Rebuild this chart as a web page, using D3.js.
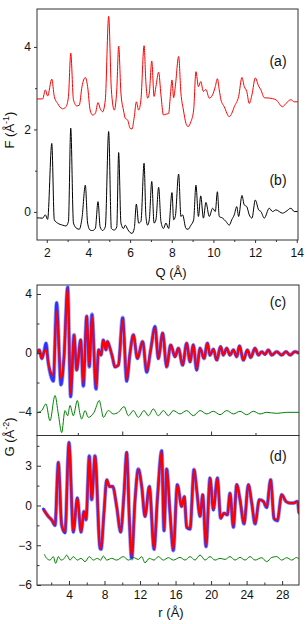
<!DOCTYPE html>
<html>
<head>
<meta charset="utf-8">
<script src="https://cdn.jsdelivr.net/npm/d3@7"></script>
<style>
  body { margin: 0; background: #fff; }
  svg text { font-family: "Liberation Sans", Arial, sans-serif; }
</style>
</head>
<body>
<svg id="chart"></svg>
<script>
// (a) measured F(Q), shifted up
var qA = [1.50,1.80,1.93,2.04,2.24,2.36,2.52,2.76,2.92,3.04,
  3.15,3.28,3.44,3.56,3.69,3.85,3.96,4.08,4.20,4.33,
  4.46,4.56,4.68,4.81,4.97,5.10,5.24,5.36,5.45,5.56,
  5.68,5.77,5.88,6.00,6.09,6.20,6.30,6.41,6.52,6.67,
  6.76,6.84,6.92,7.04,7.15,7.24,7.37,7.48,7.60,7.72,
  7.85,7.93,8.01,8.09,8.17,8.33,8.44,8.56,8.68,8.78,
  8.92,9.05,9.16,9.28,9.39,9.52,9.64,9.80,9.96,10.09,
  10.19,10.28,10.36,10.52,10.76,10.88,11.00,11.21,11.37,11.48,
  11.60,11.72,11.85,12.01,12.17,12.28,12.44,12.68,13.00,13.32,
  13.48,13.72,13.88,14.05];
var fA = [2.74,2.74,2.96,2.81,3.22,2.80,2.63,2.50,2.55,2.80,
  3.85,2.72,2.57,2.59,3.04,3.26,3.04,2.47,2.35,2.39,
  2.65,2.51,2.43,2.72,4.74,2.96,2.47,2.96,4.02,2.88,
  2.47,2.27,2.23,2.03,2.01,2.31,2.67,2.47,2.72,4.03,
  3.12,2.76,2.88,3.66,2.80,3.04,3.39,2.84,2.35,2.37,
  2.39,2.80,3.20,2.77,3.04,3.77,2.88,2.47,2.15,2.07,
  2.19,2.47,3.40,3.04,3.16,2.92,2.97,2.76,2.84,3.04,
  3.23,2.96,2.72,2.55,2.31,2.39,2.55,2.80,3.26,3.04,
  2.92,2.63,2.84,3.25,3.05,2.96,2.77,2.76,2.72,2.55,
  2.63,2.72,2.67,2.67];

// (b) calculated F(Q)
var qB = [1.50,1.80,1.93,2.04,2.24,2.36,2.52,2.76,2.92,3.04,
  3.15,3.28,3.44,3.56,3.69,3.85,3.96,4.08,4.20,4.33,
  4.46,4.56,4.68,4.81,4.97,5.10,5.24,5.36,5.45,5.56,
  5.68,5.77,5.88,6.00,6.09,6.20,6.30,6.41,6.52,6.67,
  6.76,6.84,6.92,7.04,7.15,7.24,7.37,7.48,7.60,7.72,
  7.85,8.01,8.09,8.17,8.33,8.44,8.52,8.68,8.78,8.92,
  9.05,9.16,9.28,9.39,9.52,9.64,9.80,9.96,10.09,10.19,
  10.28,10.44,10.60,10.76,10.88,11.00,11.12,11.21,11.37,11.48,
  11.60,11.72,11.85,12.01,12.17,12.28,12.44,12.68,12.84,13.00,
  13.32,13.48,13.72,13.88,14.05];
var fB = [-0.14,-0.15,-0.07,-0.18,1.66,-0.19,-0.27,-0.32,-0.34,-0.23,
  2.03,-0.27,-0.40,-0.42,-0.15,0.65,-0.27,-0.44,-0.45,-0.40,
  0.25,-0.36,-0.45,-0.36,1.95,-0.40,-0.44,-0.36,1.44,-0.27,
  -0.40,-0.32,-0.42,-0.50,-0.52,-0.40,0.19,-0.27,-0.23,1.18,
  -0.11,-0.32,-0.19,0.74,-0.27,-0.19,0.60,-0.23,-0.40,-0.27,
  -0.40,0.47,-0.19,-0.11,0.92,-0.11,-0.07,-0.40,-0.42,-0.32,
  -0.19,0.65,-0.11,0.39,-0.15,0.23,-0.11,0.09,0.01,0.49,
  -0.11,-0.15,-0.23,-0.32,-0.19,-0.07,0.13,-0.11,0.40,0.17,
  0.13,-0.07,-0.15,0.29,0.05,0.01,-0.15,0.09,0.01,0.05,
  -0.03,0.01,0.09,0.01,0.01];

// (c) G(r): data, fit, difference
var rC = [0.40,0.66,0.93,1.19,1.41,1.68,1.94,2.24,2.61,3.10,
  3.44,3.85,4.19,4.57,4.87,5.32,5.62,5.99,6.29,6.59,
  7.04,7.34,7.61,7.87,8.17,8.32,8.62,8.88,9.18,9.56,
  10.05,10.50,10.87,11.25,11.70,12.30,12.75,13.20,13.69,14.06,
  14.55,15.00,15.45,15.94,16.32,16.80,17.25,17.63,18.00,18.38,
  18.76,19.21,19.58,19.88,20.26,20.63,21.08,21.38,21.76,22.13,
  22.51,22.89,23.19,23.64,24.09,24.46,24.95,25.33,25.70,26.08,
  26.45,26.83,27.39,27.95,28.44,28.89,29.45,29.90];
var gCfit = [-0.02,0.21,-0.37,0.09,0.21,-0.71,-1.28,-1.51,2.83,-1.74,
  -0.30,4.40,-2.76,1.23,-1.16,0.89,-2.08,2.49,-0.94,2.49,
  -2.31,0.21,-0.14,0.89,0.21,0.78,0.32,-0.25,-0.94,-0.82,
  2.26,-1.74,-0.02,1.23,-0.37,0.78,-1.16,0.21,1.69,-0.37,
  1.35,-0.94,0.55,-0.25,0.32,-0.82,0.66,-0.59,0.55,-1.05,
  0.32,-0.37,0.66,-0.14,0.25,-0.48,0.43,-0.14,0.32,-0.14,
  0.21,-0.25,0.48,-0.48,0.21,-0.30,0.32,-0.14,0.09,-0.09,
  0.21,-0.14,0.09,-0.14,0.09,-0.14,0.09,-0.02];
var gCobs = [-0.02,0.21,-0.37,0.09,0.66,-0.71,-1.50,-1.90,3.40,-2.15,
  -0.30,4.45,-2.95,1.23,-1.16,0.89,-2.25,2.49,-0.94,2.62,
  -2.45,0.21,-0.14,0.89,0.21,0.78,0.32,-0.25,-0.94,-0.82,
  2.40,-1.90,-0.02,1.23,-0.37,0.78,-1.30,0.21,1.80,-0.37,
  1.35,-0.94,0.55,-0.25,0.32,-0.82,0.66,-0.59,0.55,-1.15,
  0.32,-0.37,0.66,-0.14,0.25,-0.48,0.43,-0.14,0.32,-0.14,
  0.21,-0.25,0.48,-0.48,0.21,-0.30,0.32,-0.14,0.09,-0.09,
  0.21,-0.14,0.09,-0.14,0.09,-0.14,0.09,-0.02];
var rCdiff = [0.48,0.93,1.41,1.86,2.43,2.80,3.18,3.55,3.85,4.12,
  4.49,4.94,5.24,5.43,5.81,6.18,6.82,7.42,7.61,7.87,
  8.43,9.00,9.56,10.20,10.69,11.25,11.81,12.45,12.94,13.50,
  14.06,14.63,15.19,15.75,16.50,17.25,18.00,18.76,19.51,20.26,
  21.01,21.76,22.51,23.26,24.01,24.76,25.51,26.26,27.39,28.52,
  29.90];
var gCdiff = [-4.02,-3.90,-3.45,-4.59,-2.88,-4.13,-5.39,-3.90,-4.25,-3.56,
  -4.25,-3.22,-4.13,-4.47,-3.90,-4.36,-4.02,-3.22,-3.68,-4.36,
  -3.90,-4.13,-4.02,-3.63,-4.25,-3.90,-4.36,-3.90,-4.25,-3.79,
  -4.25,-3.90,-4.25,-3.90,-4.13,-3.90,-4.25,-3.90,-4.13,-3.95,
  -4.18,-3.90,-4.13,-3.95,-4.18,-3.95,-4.13,-4.02,-4.09,-4.02,
  -4.02];

// (d) G(r): data, fit, difference
var rD = [1.11,1.68,2.05,2.43,2.80,3.18,3.55,4.00,4.49,4.94,
  5.36,5.69,5.92,6.29,6.56,6.93,7.49,7.61,7.95,8.25,
  8.55,8.92,9.37,9.82,10.20,10.50,10.80,11.06,11.44,11.81,
  12.19,12.56,13.05,13.58,13.95,14.44,14.70,15.00,15.38,15.75,
  16.20,16.69,16.99,17.25,17.63,18.08,18.38,18.76,19.06,19.43,
  19.88,20.26,20.71,21.08,21.46,21.83,22.13,22.51,22.89,23.26,
  23.71,24.20,24.58,24.95,25.44,25.89,26.26,26.71,27.09,27.46,
  27.95,28.44,28.89,29.27,29.72,29.90];
var gDfit = [-0.33,-0.83,-1.09,-1.46,3.21,-1.46,-1.97,4.70,-1.97,0.56,
  -1.97,-0.45,-1.09,3.71,0.43,3.71,-3.10,-3.23,-0.45,1.94,
  1.44,1.44,-0.08,-1.97,0.93,3.97,-1.09,-3.86,0.43,2.70,
  1.44,-0.83,1.44,-3.23,0.43,4.09,-1.84,2.70,-0.58,-3.36,
  1.57,-0.08,0.68,-1.59,-1.72,2.70,1.19,-0.83,0.81,-2.98,
  2.07,-0.33,2.07,-0.96,-0.58,-0.71,0.93,-1.59,1.57,0.43,
  -1.34,1.57,0.18,-1.34,0.43,0.30,-0.08,1.94,-0.96,-1.09,
  0.81,0.30,0.18,0.18,0.30,-0.58];
var gDobs = [-0.25,-0.83,-1.09,-1.50,3.25,-1.50,-2.05,4.75,-2.00,0.56,
  -2.00,-0.45,-1.09,3.75,0.43,3.75,-3.20,-3.30,-0.45,1.94,
  1.44,1.44,-0.08,-2.00,0.93,4.00,-1.09,-4.00,0.43,2.75,
  1.44,-0.83,1.44,-3.30,0.43,4.12,-1.90,2.75,-0.58,-3.40,
  1.57,-0.08,0.68,-1.65,-1.78,2.72,1.19,-0.83,0.81,-3.10,
  2.07,-0.33,2.07,-0.96,-0.58,-0.71,0.93,-1.65,1.57,0.43,
  -1.40,1.57,0.18,-1.40,0.43,0.30,-0.15,1.94,-1.00,-1.15,
  0.81,0.30,0.18,0.18,0.30,-0.58];
var rDdiff = [1.23,1.49,1.86,2.24,2.50,2.80,3.10,3.48,3.74,4.12,
  4.49,4.94,5.36,5.81,6.29,6.74,7.19,7.57,7.87,8.25,
  8.81,9.37,10.12,10.69,11.25,11.81,12.19,12.56,13.05,13.58,
  14.06,14.63,15.19,15.75,16.50,17.07,17.63,18.19,18.76,19.32,
  19.88,20.44,21.01,21.57,22.13,22.70,23.26,23.82,24.39,24.95,
  25.70,26.26,26.83,27.39,27.95,28.52,29.08,29.64,29.90];
var gDdiff = [-3.69,-3.99,-4.12,-3.86,-4.37,-3.86,-4.12,-3.99,-3.74,-4.12,
  -3.86,-4.12,-3.99,-4.24,-3.86,-4.12,-3.99,-4.12,-3.81,-4.12,
  -3.99,-4.12,-3.86,-4.12,-3.92,-4.07,-3.86,-4.32,-3.99,-4.12,
  -3.86,-4.12,-3.94,-4.12,-3.92,-4.12,-3.86,-4.12,-3.74,-4.12,
  -3.86,-4.12,-3.99,-4.07,-3.86,-4.12,-3.92,-4.12,-3.86,-4.12,
  -3.94,-4.24,-3.92,-3.86,-4.12,-3.94,-4.12,-3.92,-4.07];

// ticks
var qTicks = [2, 4, 6, 8, 10, 12, 14];
var qMinor = [3, 5, 7, 9, 11, 13];
var fTicks = [0, 2, 4];
var fMinor = [1, 3];
var rTicks = [4, 8, 12, 16, 20, 24, 28];
var rMinor = [2, 6, 10, 14, 18, 22, 26];
var rTicksC = [10, 20];
var rMinorC = [5, 15, 25];
var gTicksC = [-4, 0, 4];
var gMinorC = [-2, 2];
var gTicksD = [-6, -3, 0, 3];
var gMinorD = [-4.5, -1.5, 1.5, 4.5];

var width = 307, height = 624;
var svg = d3.select("#chart").attr("width", width).attr("height", height);

var xQ = d3.scaleLinear().domain([1.53, 14.06]).range([37, 298]);
var yF = d3.scaleLinear().domain([-0.68, 4.92]).range([240, 9]);
var xR = d3.scaleLinear().domain([0.4, 29.9]).range([37, 299]);
var yC = d3.scaleLinear().domain([-5.59, 4.61]).range([435.5, 285]);
var yD = d3.scaleLinear().domain([-6, 5.28]).range([585, 435.5]);

function clip(id, x, y) {
  svg.append("clipPath").attr("id", id).append("rect")
    .attr("x", x.range()[0]).attr("y", y.range()[1])
    .attr("width", x.range()[1] - x.range()[0])
    .attr("height", y.range()[0] - y.range()[1]);
}
clip("clipA", xQ, yF);
clip("clipC", xR, yC);
clip("clipD", xR, yD);

function drawLine(g, x, y, xs, ys, color, w, dash) {
  var line = d3.line()
    .x(function(d) { return x(d[0]); })
    .y(function(d) { return y(d[1]); })
    .curve(d3.curveMonotoneX);
  var p = g.append("path")
    .datum(d3.zip(xs, ys))
    .attr("fill", "none")
    .attr("stroke", color)
    .attr("stroke-width", w)
    .attr("stroke-linejoin", "round")
    .attr("d", line);
  if (dash) p.attr("stroke-dasharray", dash).attr("stroke-linecap", "round");
}

var gA = svg.append("g").attr("clip-path", "url(#clipA)");
drawLine(gA, xQ, yF, qA, fA, "#ff0000", 1);
drawLine(gA, xQ, yF, qB, fB, "#000000", 1);

// observed data: open circles drawn as a thick dotted blue band
var gC = svg.append("g").attr("clip-path", "url(#clipC)");
drawLine(gC, xR, yC, rC, gCobs, "#9a9aff", 4);
drawLine(gC, xR, yC, rC, gCobs, "#2f2fff", 2.6, "0.1 1.6");
drawLine(gC, xR, yC, rC, gCfit, "#ff0000", 2);
drawLine(gC, xR, yC, rCdiff, gCdiff, "#008000", 1);

var gD = svg.append("g").attr("clip-path", "url(#clipD)");
drawLine(gD, xR, yD, rD, gDobs, "#9a9aff", 4);
drawLine(gD, xR, yD, rD, gDobs, "#2f2fff", 2.6, "0.1 1.6");
drawLine(gD, xR, yD, rD, gDfit, "#ff0000", 2);
drawLine(gD, xR, yD, rDdiff, gDdiff, "#008000", 1);

// frames
function frame(x, y) {
  svg.append("rect")
    .attr("x", x.range()[0]).attr("y", y.range()[1])
    .attr("width", x.range()[1] - x.range()[0])
    .attr("height", y.range()[0] - y.range()[1])
    .attr("fill", "none").attr("stroke", "#333").attr("stroke-width", 1);
}
frame(xQ, yF);
frame(xR, yC);
frame(xR, yD);

function axis(gen, tx, ty, values, size, pad, labels) {
  var a = gen.tickValues(values).tickSizeInner(size).tickSizeOuter(0).tickPadding(pad);
  if (!labels) a.tickFormat("");
  else a.tickFormat(d3.format("d"));
  var g = svg.append("g").attr("transform", "translate(" + tx + "," + ty + ")").call(a);
  g.select(".domain").remove();
  g.selectAll("line").attr("stroke", "#333");
  g.selectAll("text").attr("font-size", 12).attr("font-family", "'Liberation Sans', Arial, sans-serif").attr("fill", "#111");
  return g;
}

// top panel: outward ticks
axis(d3.axisBottom(xQ), 0, 240, qTicks, 3, 5, true);
axis(d3.axisBottom(xQ), 0, 240, qMinor, 2, 5, false);
axis(d3.axisLeft(yF), 37, 0, fTicks, 3, 3, true);
axis(d3.axisLeft(yF), 37, 0, fMinor, 2, 3, false);

// panel c: inward ticks
axis(d3.axisBottom(xR), 0, 435.5, rTicksC, -4, 4, false);
axis(d3.axisBottom(xR), 0, 435.5, rMinorC, -2.5, 4, false);
axis(d3.axisLeft(yC), 37, 0, gTicksC, -4, 5, true);
axis(d3.axisLeft(yC), 37, 0, gMinorC, -2.5, 5, false);

// panel d: inward ticks
axis(d3.axisBottom(xR), 0, 585, rTicks, -4, 5, true);
axis(d3.axisBottom(xR), 0, 585, rMinor, -2.5, 5, false);
axis(d3.axisLeft(yD), 37, 0, gTicksD, -4, 5, true);
axis(d3.axisLeft(yD), 37, 0, gMinorD, -2.5, 5, false);

// titles
function label(x, y, size, rot) {
  var t = svg.append("text")
    .attr("text-anchor", "middle")
    .attr("font-size", size)
    .attr("fill", "#111");
  if (rot) t.attr("transform", "translate(" + x + "," + y + ") rotate(-90)");
  else t.attr("x", x).attr("y", y);
  return t;
}
label(171, 277, 13).text("Q (Å)");
label(171, 617, 13).text("r (Å)");

var tF = label(14, 130, 13, true);
tF.append("tspan").text("F (Å");
tF.append("tspan").attr("font-size", 9).attr("dy", -5).text("-1");
tF.append("tspan").attr("dy", 5).text(")");

var tG = label(14, 437, 13, true);
tG.append("tspan").text("G (Å");
tG.append("tspan").attr("font-size", 9).attr("dy", -5).text("-2");
tG.append("tspan").attr("dy", 5).text(")");

label(278, 66, 14).text("(a)");
label(278, 185, 14).text("(b)");
label(278, 307, 14).text("(c)");
label(278, 461, 14).text("(d)");
</script>
</body>
</html>
